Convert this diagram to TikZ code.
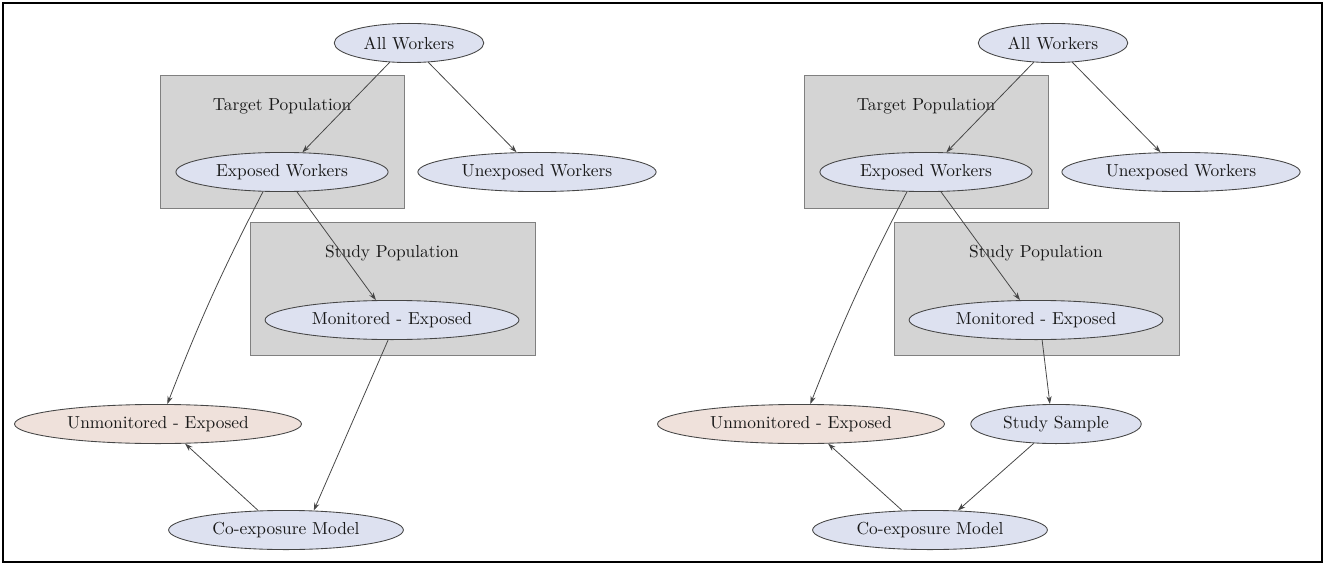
\documentclass[tikz,border=0pt]{standalone}
\usetikzlibrary{shapes.geometric,arrows.meta}
\newcommand{\pxu}{0.575pt}
\newcommand{\dx}{644}
\definecolor{nodefill}{RGB}{221,225,240}
\definecolor{pinkfill}{RGB}{239,225,219}
\definecolor{boxfill}{RGB}{212,212,212}
\definecolor{linegray}{RGB}{70,70,70}

\begin{document}
\begin{tikzpicture}[x=\pxu, y=-\pxu,
    ell/.style={draw=linegray, fill=nodefill, ellipse, inner sep=0pt, line width=0.5pt, minimum height=22.5pt, text=black!90},
    pink/.style={ell, fill=pinkfill},
    box/.style={draw=gray, fill=boxfill, rectangle, inner sep=0pt, line width=0.5pt, minimum height=76.5pt},
    edge/.style={draw=linegray, line width=0.45pt, -{Stealth[length=4.5pt,width=3pt]}}]
    \useasboundingbox (0,0) rectangle (1325,566);
    \draw[line width=1pt] (3,3) rectangle (1322,562);

    % Left panel
    \node[box, minimum width=140.3pt] (l-target) at (282,141.5) {};
    \node[box, minimum width=163.9pt] (l-study) at (392.5,288.5) {};
    \node[text=black!90] (l-target-lbl) at (282,106) {Target Population};
    \node[text=black!90] (l-study-lbl) at (392,253) {Study Population};

    \node[ell, minimum width=86pt] (l-all) at (409,43) {All Workers};
    \node[ell, minimum width=122pt] (l-exp) at (282,172) {Exposed Workers};
    \node[ell, minimum width=137pt] (l-unexp) at (537,172) {Unexposed Workers};
    \node[ell, minimum width=146pt] (l-mon) at (392,320) {Monitored - Exposed};
    \node[pink, minimum width=165pt] (l-unmon) at (158,424) {Unmonitored - Exposed};
    \node[ell, minimum width=135pt] (l-model) at (286,530) {Co-exposure Model};

    \draw[edge] (l-all.225) -- (l-exp.44);
    \draw[edge] (l-all.315) -- (l-unexp.136);
    \draw[edge] (l-exp.307) -- (l-mon.129);
    \draw[edge] (l-exp.226) to[bend right=3] (l-unmon.65);
    \draw[edge] (l-mon.259) -- (l-model.35);
    \draw[edge] (l-model.145) -- (l-unmon.324);

    % Right panel
    \node[box, minimum width=140.3pt] (r-target) at (\dx+282,141.5) {};
    \node[box, minimum width=163.9pt] (r-study) at (\dx+392.5,288.5) {};
    \node[text=black!90] (r-target-lbl) at (\dx+282,106) {Target Population};
    \node[text=black!90] (r-study-lbl) at (\dx+392,253) {Study Population};

    \node[ell, minimum width=86pt] (r-all) at (\dx+409,43) {All Workers};
    \node[ell, minimum width=122pt] (r-exp) at (\dx+282,172) {Exposed Workers};
    \node[ell, minimum width=137pt] (r-unexp) at (\dx+537,172) {Unexposed Workers};
    \node[ell, minimum width=146pt] (r-mon) at (\dx+392,320) {Monitored - Exposed};
    \node[pink, minimum width=165pt] (r-unmon) at (\dx+157,424) {Unmonitored - Exposed};
    \node[ell, minimum width=98pt] (r-sample) at (1056,424) {Study Sample};
    \node[ell, minimum width=135pt] (r-model) at (\dx+286,530) {Co-exposure Model};

    \draw[edge] (r-all.225) -- (r-exp.44);
    \draw[edge] (r-all.315) -- (r-unexp.136);
    \draw[edge] (r-exp.307) -- (r-mon.129);
    \draw[edge] (r-exp.226) to[bend right=3] (r-unmon.65);
    \draw[edge] (r-mon.287) -- (r-sample.107);
    \draw[edge] (r-sample.221) -- (r-model.35);
    \draw[edge] (r-model.145) -- (r-unmon.324);

\end{tikzpicture}
\end{document}
